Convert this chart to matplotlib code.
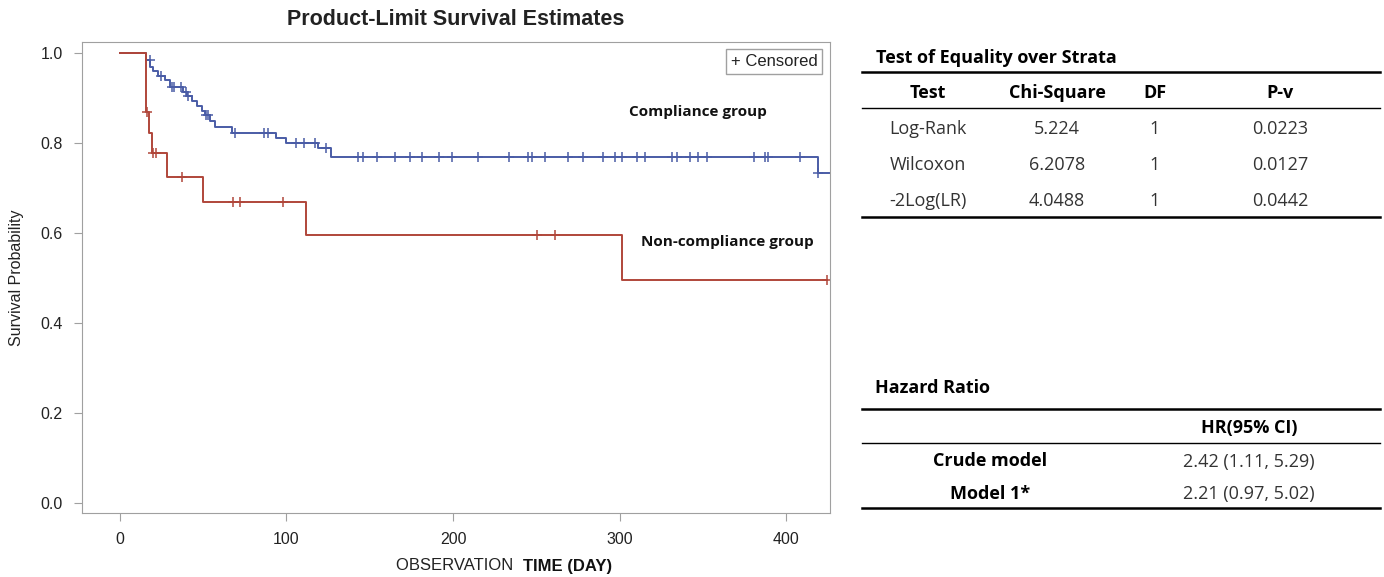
import matplotlib.pyplot as plt
import numpy as np

W, H = 1384, 577

# Kaplan-Meier steps (day, survival after step)
comp_t = [0, 15.5, 18, 20, 23, 27, 30, 38, 40.5, 43, 46, 49, 51, 54, 57, 67, 94, 100, 119, 127, 419]
comp_s = [1.0, 0.985, 0.97, 0.96, 0.95, 0.94, 0.925, 0.913, 0.905, 0.893, 0.882, 0.872, 0.862, 0.85,
          0.837, 0.822, 0.811, 0.800, 0.789, 0.770, 0.733]
comp_end = 428
comp_cens = [17.8, 24.4, 31.5, 32.5, 36.5, 39.8, 41, 51.5, 53, 69, 86.7, 88.7, 105.5, 110.5, 117, 124,
             142.8, 146.1, 154.1, 165.2, 174.2, 181.2, 191.8, 199.6, 215.2, 233.8, 245.2, 247.2, 255.2,
             269.2, 278.2, 290.3, 297.3, 301.3, 310.3, 315.3, 331.3, 334.3, 342.3, 347.3, 352.3, 380.8,
             387.4, 389.4, 408.4, 419]

nonc_t = [0, 15.4, 17.4, 19, 28, 49.7, 112, 301.3]
nonc_s = [1.0, 0.87, 0.822, 0.778, 0.724, 0.670, 0.596, 0.496]
nonc_end = 424.5
nonc_cens = [16.2, 20, 21.4, 37, 68, 72, 97.7, 250.2, 261.3, 424.5]

# tables
test_head = ["Test", "Chi-Square", "DF", "P-v"]
test_names = ["Log-Rank", "Wilcoxon", "-2Log(LR)"]
chi_sq = ["5.224", "6.2078", "4.0488"]
dfs = ["1", "1", "1"]
pvals = ["0.0223", "0.0127", "0.0442"]
hr_models = ["Crude model", "Model 1*"]
hr_vals = ["2.42 (1.11, 5.29)", "2.21 (0.97, 5.02)"]

blue = "#4a5ca6"
red = "#b0463a"
gray = "#a0a0a0"

plt.rcParams['font.family'] = ['Liberation Sans', 'DejaVu Sans']

fig = plt.figure(figsize=(W / 100, H / 100), dpi=100)


def fx(x):
    return x / W


def fy(y):
    return 1 - y / H


ax = fig.add_axes([fx(82), fy(513), fx(830) - fx(82), fy(42) - fy(513)])


def km(t, s, end, cens, color):
    tt = list(t) + [end]
    ss = list(s) + [s[-1]]
    ax.step(tt, ss, where="post", color=color, lw=1.4)
    idx = np.searchsorted(t, cens, side="right") - 1
    cs = np.array(s)[idx]
    ax.plot(cens, cs, "+", color=color, ms=7, mew=1.1)


km(comp_t, comp_s, comp_end, comp_cens, blue)
km(nonc_t, nonc_s, nonc_end, nonc_cens, red)

ax.set_xlim(-22.8, 426.4)
ax.set_ylim(-0.022, 1.025)
ax.set_xticks([0, 100, 200, 300, 400])
ax.set_yticks([0, 0.2, 0.4, 0.6, 0.8, 1.0])
ax.set_yticklabels(["0.0", "0.2", "0.4", "0.6", "0.8", "1.0"])
for sp in ax.spines.values():
    sp.set_color(gray)
ax.tick_params(colors=gray, labelcolor="#222222", labelsize=11.5, length=6, pad=8)
ax.set_ylabel("Survival Probability", fontsize=11.5, color="#222222", labelpad=12)
ax.set_title("Product-Limit Survival Estimates", fontsize=15.5, fontweight="bold",
             color="#222222", pad=12)
fig.text(fx(523), fy(566), "OBSERVATION  ", ha="right", va="center", fontsize=12, color="#222222")
fig.text(fx(523), fy(566), "TIME (DAY)", ha="left", va="center", fontsize=12,
         color="#111111", fontweight="bold", family=["Liberation Sans Narrow", "Liberation Sans"])

ax.text(0.983, 0.975, "+ Censored", transform=ax.transAxes, ha="right", va="top", fontsize=12,
        color="#222222", bbox=dict(boxstyle="square,pad=0.3", fc="white", ec=gray, lw=1))

lab = dict(fontsize=11, fontweight="bold", color="#111111", family=["Open Sans", "DejaVu Sans"])
fig.text(fx(698), fy(112), "Compliance group", ha="center", va="center", **lab)
fig.text(fx(727), fy(242), "Non-compliance group", ha="center", va="center", **lab)

# tables on the right
tf = ["Open Sans", "DejaVu Sans"]
fs = 13


def hline(y, lw):
    fig.add_artist(plt.Line2D([fx(862), fx(1380)], [fy(y), fy(y)], color="black", lw=lw))


fig.text(fx(876), fy(58), "Test of Equality over Strata", ha="left", va="center", fontsize=fs,
         fontweight="bold", family=tf)
hline(71.5, 1.8)
cols = [928, 1057, 1155, 1280]
for c, h in zip(cols, test_head):
    fig.text(fx(c), fy(93), h, ha="center", va="center", fontsize=fs, fontweight="bold", family=tf)
hline(108, 1.0)
for i in range(len(test_names)):
    y = 129.5 + 36 * i
    for c, v in zip(cols, [test_names[i], chi_sq[i], dfs[i], pvals[i]]):
        fig.text(fx(c), fy(y), v, ha="center", va="center", fontsize=fs, family=tf, color="#333333")
hline(217, 1.8)

fig.text(fx(875), fy(388), "Hazard Ratio", ha="left", va="center", fontsize=fs,
         fontweight="bold", family=tf)
hline(409, 1.8)
fig.text(fx(1249), fy(427.5), "HR(95% CI)", ha="center", va="center", fontsize=fs,
         fontweight="bold", family=tf)
hline(442.5, 1.0)
for i in range(len(hr_models)):
    y = 461.5 + 32.5 * i
    fig.text(fx(990), fy(y), hr_models[i], ha="center", va="center", fontsize=fs,
             fontweight="bold", family=tf)
    fig.text(fx(1249), fy(y), hr_vals[i], ha="center", va="center", fontsize=fs,
             family=tf, color="#333333")
hline(508, 1.8)

fig.savefig("out.png", dpi=100)
